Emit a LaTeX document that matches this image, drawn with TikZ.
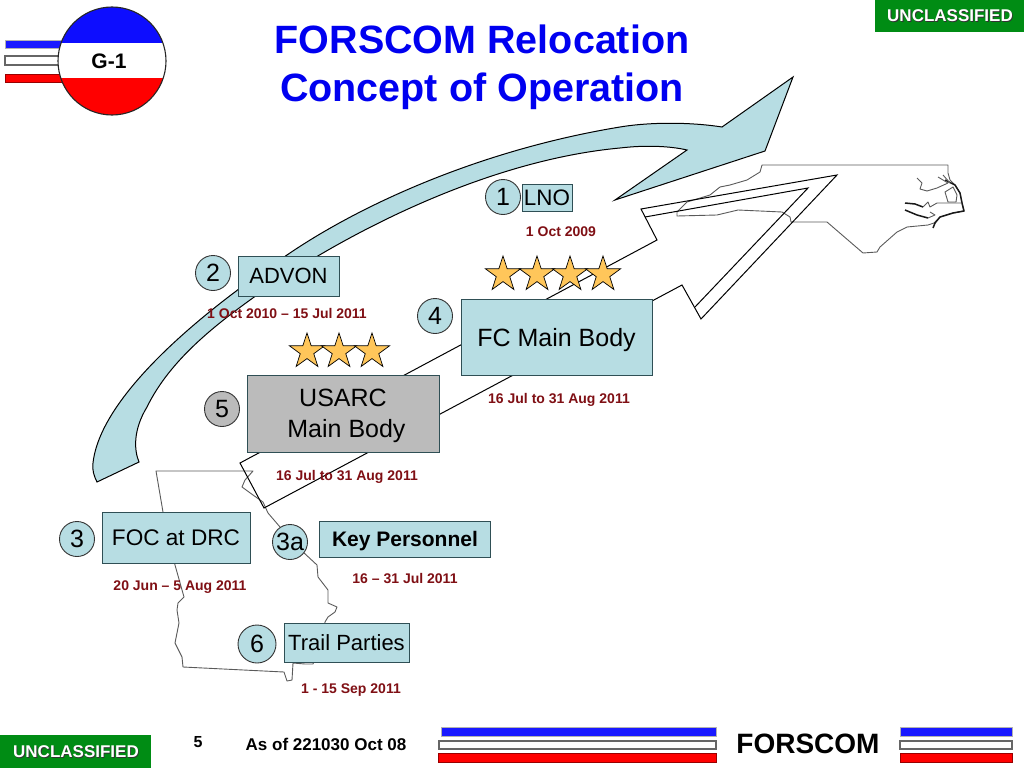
\documentclass[tikz,border=0pt]{standalone}
\usepackage{fontspec}
\usepackage{xcolor}
\setmainfont{Liberation Sans}
\usetikzlibrary{shapes,positioning,calc}
\definecolor{paleteal}{HTML}{B7DDE3}
\definecolor{boxgray}{HTML}{BBBBBB}
\definecolor{starfill}{HTML}{FFC65A}
\definecolor{datered}{HTML}{7F0F14}
\definecolor{titleblue}{HTML}{0000F0}
\definecolor{classgreen}{HTML}{008C14}
\definecolor{boxedge}{HTML}{2F4F55}
\definecolor{mapline}{HTML}{5A5A5A}
\newcommand{\fs}[1]{\fontsize{#1}{#1}\selectfont}
\tikzset{
    tealbox/.style={draw=boxedge, line width=1pt, fill=paleteal, inner sep=0pt, align=center, text depth=0pt},
    graybox/.style={tealbox, fill=boxgray},
    numdot/.style={draw=black!80, line width=0.9pt, circle, fill=paleteal, minimum size=35pt, inner sep=0pt, font=\fs{25}},
    datetext/.style={text=datered, font=\fs{14}\bfseries, inner sep=0pt, text depth=0pt},
    goldstar/.style={draw=black, line width=0.7pt, fill=starfill, star, star points=5, star point ratio=2.6, minimum size=37pt, inner sep=0pt},
    maptrace/.style={draw=mapline, line width=0.9pt, line join=round},
    coastline/.style={draw=black!90, line width=1.5pt, line join=round},
    movearrow/.style={draw=black, line width=1pt, line join=miter},
    classbox/.style={fill=classgreen, minimum width=150pt, minimum height=32pt, inner sep=0pt},
    classtext/.style={text=white, font=\fs{17}\bfseries, inner sep=0pt},
    classshadow/.style={text=black!80, font=\fs{17}\bfseries, inner sep=0pt},
    barblue/.style={fill=blue!90!white, draw=gray!60, line width=0.8pt},
    barwhite/.style={fill=white, draw=gray!80!black, line width=1.2pt},
    barred/.style={fill=red, draw=red!60!black, line width=0.8pt},
}
\begin{document}
\begin{tikzpicture}[x=1pt, y=-1pt]
    \useasboundingbox (0,0) rectangle (1024,768);

    \draw[maptrace] (156,471) -- (253,471) -- (245,480) -- (242,487) -- (253,495) -- (263,502) -- (268,513) -- (280,527) -- (292,540) -- (303,552) -- (317,565) -- (318,577) -- (328,590) -- (328,603) -- (337,607) -- (335,612) -- (328,617) -- (325,622) -- (322,640) -- (313,664) -- (305,664) -- (293,663) -- (292,680) -- (287,681) -- (284,672) -- (183,667) -- (182,657) -- (175,643) -- (179,623) -- (177,610) -- (178,603) -- (184,597) -- (175,565) -- (163,512) -- cycle;

    \draw[maptrace] (762,165) -- (948,165) -- (948,173) -- (950,180) -- (955,185) -- (960,193) -- (962,203) -- (964,211) -- (953,213) -- (940,217) -- (934,223) -- (928,225) -- (907,227) -- (897,232) -- (880,247) -- (877,252) -- (863,253) -- (827,222) -- (791,222) -- (790,217) -- (782,212) -- (738,210) -- (717,215) -- (677,216) -- (677,212) -- (687,202) -- (710,195) -- (720,187) -- (730,185) -- (747,180) -- (760,172) -- cycle;
    \draw[coastline] (945,180) -- (955,185) -- (960,193) -- (962,203) -- (964,211) -- (953,213) -- (940,217) -- (935,223) -- (933,228);
    \draw[coastline] (905,203) -- (915,204) -- (923,207);
    \draw[coastline] (905,210) -- (917,215) -- (928,218);
    \draw[maptrace] (917,178) -- (922,183) -- (920,189) -- (927,191) -- (937,188) -- (948,183);
    \draw[maptrace] (938,177) -- (948,183) (943,175) -- (950,183);
    \draw[maptrace] (945,192) -- (953,187) -- (957,195) -- (956,202) -- (948,202) -- cycle;
    \draw[maptrace] (962,203) -- (945,203) -- (937,203) -- (930,207) -- (928,202) -- (923,207);
    \draw[maptrace] (928,218) -- (935,215) -- (930,212);

    \draw[movearrow] (240,463) -- (657,240) -- (641,209) -- (837,175) -- (701,319) -- (682,285) -- (264,508) -- cycle;
    \draw[movearrow] (645,217) -- (808,188) -- (695,307);

    \draw[movearrow, fill=paleteal] (793,77) -- (722,127)
        .. controls (690,122) and (650,122) .. (620,127)
        .. controls (480,150) and (360,205) .. (287,255)
        .. controls (190,320) and (100,400) .. (93,463)
        .. controls (92,470) and (94,476) .. (97,482)
        -- (139,462)
        .. controls (134,450) and (133,430) .. (147,407)
        .. controls (170,360) and (215,325) .. (257,295)
        .. controls (350,230) and (490,160) .. (620,148)
        .. controls (645,145) and (670,146) .. (687,150)
        -- (615,200) -- (765,151) -- cycle;

    \node[text=titleblue, font=\fs{39.5}\bfseries, align=center, inner sep=0pt] (title) at (482,67.5) {FORSCOM Relocation\\[8.5pt]Concept of Operation};

    \node[classbox] (classtop) at (950,16) {};
    \node[classshadow] (classtopback) at (950.8,16.8) {UNCLASSIFIED};
    \node[classtext] (classtoplabel) at (950,16) {UNCLASSIFIED};

    \draw[barblue] (5,40) rectangle (62,48);
    \draw[barwhite] (5,56) rectangle (62,65);
    \draw[barred] (5,74) rectangle (62,82);
    \begin{scope}
        \clip (112,61) circle (54);
        \fill[blue!95!white] (55,5) rectangle (170,43);
        \fill[white] (55,43) rectangle (170,78);
        \fill[red] (55,78) rectangle (170,120);
    \end{scope}
    \node[draw=black!85, line width=1.1pt, circle, minimum size=108pt, inner sep=0pt] (badge) at (112,61) {};
    \node[font=\fs{21}\bfseries, inner sep=0pt] (badgelabel) at (109,61) {G-1};

    \node[tealbox, minimum width=50pt, minimum height=27pt, font=\fs{22.4}] (lno) at (547,198) {LNO};
    \node[tealbox, minimum width=101pt, minimum height=40pt, font=\fs{22}] (advon) at (288.5,276) {ADVON};
    \node[tealbox, minimum width=191pt, minimum height=76pt, font=\fs{25}] (fcmain) at (556.5,337) {FC Main Body};
    \node[graybox, minimum width=192pt, minimum height=77pt, font=\fs{25}] (usarc) at (343,413.5) {USARC\\[6pt]\ Main Body};
    \node[tealbox, minimum width=148pt, minimum height=51pt, font=\fs{22.6}] (foc) at (176,537.5) {FOC at DRC};
    \node[tealbox, minimum width=171pt, minimum height=36pt, font=\fs{21}\bfseries] (keypers) at (405,539) {Key Personnel};
    \node[tealbox, minimum width=125pt, minimum height=39pt, font=\fs{22}] (trail) at (346.5,642.5) {Trail Parties};

    \node[numdot] (numone) at (503,197) {1};
    \node[numdot] (numtwo) at (213,273) {2};
    \node[numdot] (numthree) at (77,539) {3};
    \node[numdot] (numthreea) at (290,542) {3a};
    \node[numdot] (numfour) at (435,316) {4};
    \node[numdot, fill=boxgray] (numfive) at (222,409) {5};
    \node[numdot, minimum size=38pt] (numsix) at (257,644) {6};

    \foreach \x/\n in {503/a,537/b,570/c,603/d}
        \node[goldstar] (fcstar\n) at (\x,274.5) {};
    \foreach \x/\n in {307/a,339/b,372/c}
        \node[goldstar] (usstar\n) at (\x,351.5) {};

    \node[datetext] (dateone) at (561,232) {1 Oct 2009};
    \node[datetext] (datetwo) at (287,313) {1 Oct 2010 – 15 Jul 2011};
    \node[datetext] (datefour) at (559,398) {16 Jul to 31 Aug 2011};
    \node[datetext] (datefive) at (347,475) {16 Jul to 31 Aug 2011};
    \node[datetext] (datethree) at (180,586) {20 Jun – 5 Aug 2011};
    \node[datetext] (datethreea) at (405,578) {16 – 31 Jul 2011};
    \node[datetext] (datesix) at (351,689) {1 - 15 Sep 2011};

    \node[classbox, minimum width=151pt, minimum height=33pt] (classbot) at (75.5,751.5) {};
    \node[classshadow] (classbotback) at (76.8,752.3) {UNCLASSIFIED};
    \node[classtext] (classbotlabel) at (76,751.5) {UNCLASSIFIED};

    \node[font=\fs{16}\bfseries, inner sep=0pt] (pagenum) at (198,742) {5};
    \node[font=\fs{17}\bfseries, inner sep=0pt] (asof) at (326,744) {As of 221030 Oct 08};
    \node[font=\fs{28}\bfseries, inner sep=0pt] (forscom) at (808,744) {FORSCOM};

    \draw[barblue] (441,727) rectangle (716,736);
    \draw[barwhite] (439,741) rectangle (716,749);
    \draw[barred] (438,753) rectangle (716,762);
    \draw[barblue] (900,727) rectangle (1012,736);
    \draw[barwhite] (900,741) rectangle (1012,749);
    \draw[barred] (900,753) rectangle (1012,762);
\end{tikzpicture}
\end{document}
